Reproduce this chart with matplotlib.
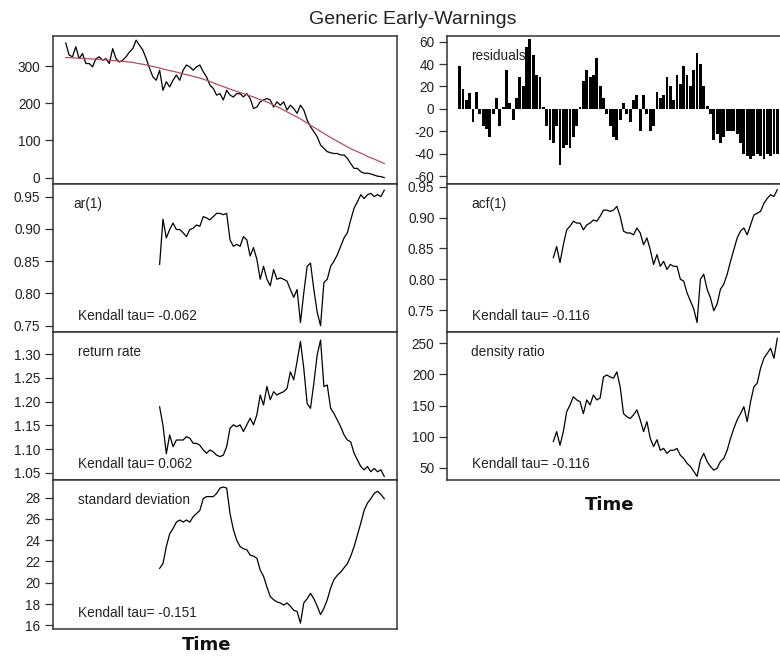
#!/usr/bin/env python3

"""Redraw the 'Generic Early-Warnings' panel figure (earlywarnings style)."""

import matplotlib

matplotlib.use("Agg")
import matplotlib.pyplot as plt
import numpy as np
from matplotlib.ticker import FixedLocator, FormatStrFormatter

# --- data ------------------------------------------------------------------

raw_series = [
    362, 330, 325, 352, 320, 334, 307, 307, 298, 320,
    325, 316, 320, 307, 347, 320, 311, 316, 325, 338,
    347, 370, 356, 343, 320, 294, 271, 262, 289, 235,
    258, 244, 262, 276, 262, 289, 303, 298, 289, 298,
    303, 285, 271, 249, 240, 222, 226, 209, 235, 222,
    217, 226, 226, 217, 226, 213, 186, 190, 204, 209,
    213, 209, 190, 204, 195, 204, 182, 195, 186, 173,
    195, 182, 155, 137, 124, 110, 88, 79, 70, 67,
    65, 65, 61, 61, 52, 38, 25, 25, 16, 12,
    12, 10, 7, 4, 3, 0,
]

trend_series = [
    323, 323, 322, 322, 321, 321, 320, 320, 319, 318.5,
    318, 317, 316.5, 316, 315, 314, 313.5, 313, 312, 311,
    310, 308, 306.5, 305, 303, 301, 299, 297, 295, 292.5,
    290, 288, 286, 284, 281.5, 279, 277, 275, 272.5, 270,
    268, 265, 262, 258.5, 255, 251.5, 248, 245, 241.5, 238,
    235, 232, 229, 226, 223, 220, 217, 213.5, 210, 207,
    204, 199.5, 195, 191, 186.5, 182, 177, 172, 167.5, 163,
    158, 152.5, 147, 141, 135.5, 130, 124.5, 119, 113.5, 108,
    103, 98, 93, 88, 83, 78, 74, 70, 66, 62,
    57, 53.5, 50, 46, 42, 38,
]

residuals = [
    38, 18, 8, 14, -12, 15, -5, -15, -18, -25,
    -5, 10, -15, 2, 35, 5, -10, 10, 28, 20,
    55, 62, 48, 30, 28, 2, -15, -28, -30, -15,
    -50, -35, -32, -35, -25, -15, 2, 25, 35, 28,
    30, 45, 20, 10, -5, -15, -25, -28, -10, 5,
    -5, -12, 8, 12, -20, 12, -5, -20, -15, 15,
    10, 12, 28, 20, 8, 30, 22, 38, 30, 20,
    35, 50, 40, 20, 3, -5, -28, -22, -30, -25,
    -20, -20, -20, -22, -30, -40, -42, -45, -42, -40,
    -42, -45, -40, -42, -40, -40,
]

# rolling-window indicators start at time step 29
indicator_start = 29

ar1 = [
    0.845, 0.915, 0.886, 0.899, 0.909, 0.899, 0.899, 0.894, 0.888, 0.899,
    0.901, 0.906, 0.904, 0.919, 0.917, 0.914, 0.919, 0.924, 0.924, 0.922,
    0.924, 0.883, 0.873, 0.876, 0.873, 0.888, 0.883, 0.858, 0.871, 0.853,
    0.822, 0.842, 0.822, 0.812, 0.837, 0.822, 0.824, 0.822, 0.819, 0.806,
    0.794, 0.806, 0.755, 0.801, 0.842, 0.847, 0.806, 0.771, 0.750, 0.817,
    0.822, 0.842, 0.850, 0.860, 0.873, 0.886, 0.894, 0.914, 0.932, 0.942,
    0.953, 0.947, 0.953, 0.955, 0.950, 0.953, 0.950, 0.960,
]

acf1 = [
    0.835, 0.853, 0.827, 0.856, 0.880, 0.886, 0.894, 0.891, 0.891, 0.880,
    0.888, 0.891, 0.896, 0.894, 0.902, 0.912, 0.912, 0.910, 0.912, 0.918,
    0.902, 0.878, 0.875, 0.875, 0.872, 0.883, 0.875, 0.856, 0.867, 0.848,
    0.824, 0.840, 0.821, 0.829, 0.816, 0.824, 0.821, 0.821, 0.800, 0.797,
    0.778, 0.765, 0.752, 0.730, 0.800, 0.808, 0.784, 0.770, 0.749, 0.760,
    0.784, 0.792, 0.808, 0.829, 0.848, 0.867, 0.878, 0.883, 0.872, 0.888,
    0.904, 0.907, 0.910, 0.923, 0.931, 0.937, 0.934, 0.945,
]

return_rate = [
    1.189, 1.150, 1.090, 1.130, 1.105, 1.119, 1.119, 1.119, 1.126, 1.123,
    1.112, 1.112, 1.108, 1.098, 1.091, 1.098, 1.094, 1.087, 1.084, 1.087,
    1.105, 1.144, 1.151, 1.147, 1.151, 1.137, 1.151, 1.165, 1.151, 1.172,
    1.214, 1.193, 1.232, 1.204, 1.221, 1.214, 1.218, 1.221, 1.228, 1.263,
    1.246, 1.285, 1.327, 1.270, 1.196, 1.186, 1.239, 1.299, 1.330, 1.232,
    1.235, 1.186, 1.175, 1.161, 1.147, 1.130, 1.119, 1.115, 1.091, 1.077,
    1.063, 1.056, 1.063, 1.052, 1.059, 1.052, 1.056, 1.042,
]

density_ratio = [
    92, 108, 86, 108, 140, 151, 164, 159, 156, 137,
    159, 151, 167, 159, 162, 196, 199, 196, 194, 204,
    180, 137, 132, 129, 135, 143, 127, 108, 124, 97,
    84, 95, 78, 81, 73, 78, 78, 81, 70, 65,
    57, 52, 44, 36, 62, 73, 60, 52, 46, 49,
    60, 65, 78, 97, 113, 127, 137, 148, 124, 156,
    180, 186, 210, 226, 234, 242, 226, 258,
]

std_dev = [
    21.35, 21.8, 23.4, 24.6, 25.1, 25.7, 25.9, 25.7, 25.9, 25.7,
    26.2, 26.5, 26.8, 27.9, 28.1, 28.1, 28.1, 28.4, 28.9, 29.0,
    28.9, 26.5, 25.0, 24.0, 23.4, 23.2, 23.1, 22.6, 22.5, 22.3,
    21.2, 20.6, 19.6, 18.7, 18.4, 18.2, 18.1, 17.9, 18.1, 17.8,
    17.4, 17.3, 16.2, 18.1, 18.5, 19.0, 18.5, 17.8, 17.0, 17.6,
    18.4, 19.5, 20.3, 20.7, 21.0, 21.4, 21.8, 22.5, 23.4, 24.5,
    25.6, 26.8, 27.5, 27.9, 28.4, 28.6, 28.3, 27.9,
]

kendall_tau = {
    "ar(1)": "-0.062",
    "acf(1)": "-0.116",
    "return rate": "0.062",
    "density ratio": "-0.116",
    "standard deviation": "-0.151",
}

# --- layout (pixels of a 780x659 canvas) ------------------------------------

W, H = 780, 659
TEXT = "#222222"
FRAME = "#333333"
FONT = ["Liberation Sans", "DejaVu Sans"]


def add_panel(fig, left, width, top, bottom):
    ax = fig.add_axes([left / W, 1 - bottom / H, width / W, (bottom - top) / H])
    for spine in ax.spines.values():
        spine.set_color(FRAME)
        spine.set_linewidth(1.1)
    ax.tick_params(axis="y", direction="out", length=5.5, width=0.9,
                   pad=3.5, labelsize=9.8, colors=TEXT)
    ax.tick_params(axis="y", color=FRAME)
    ax.set_xticks([])
    n = len(raw_series)
    pad = (n - 1) * 0.04
    ax.set_xlim(1 - pad, n + pad)
    return ax


def label_panel(ax, name, tau=None, dx=25):
    bbox = ax.get_position()
    w_px = bbox.width * W
    h_px = bbox.height * H
    ax.text(dx / w_px, 1 - 20 / h_px, name, transform=ax.transAxes,
            ha="left", va="center", fontsize=9.8, color=TEXT, family=FONT)
    if tau is not None:
        ax.text(25 / w_px, 16 / h_px, f"Kendall tau= {tau}", transform=ax.transAxes,
                ha="left", va="center", fontsize=9.8, color=TEXT, family=FONT)


def main() -> None:
    plt.rcParams["font.family"] = FONT
    plt.rcParams["axes.unicode_minus"] = False
    fig = plt.figure(figsize=(W / 100, H / 100), dpi=100)

    t_raw = np.arange(1, len(raw_series) + 1)
    t_ind = np.arange(indicator_start, indicator_start + len(ar1))

    lx, lw = 53, 344
    rx, rw = 447, 343
    rows = [36, 184, 332, 480, 629]

    # left column
    ax = add_panel(fig, lx, lw, rows[0], rows[1])
    ax.plot(t_raw, raw_series, color="black", lw=0.9)
    ax.plot(t_raw, trend_series, color="#b0505c", lw=0.9)
    ax.set_ylim(-17, 381)
    ax.yaxis.set_major_locator(FixedLocator([0, 100, 200, 300]))

    ax = add_panel(fig, lx, lw, rows[1], rows[2])
    ax.plot(t_ind, ar1, color="black", lw=0.9)
    ax.set_ylim(0.7403, 0.9695)
    ax.yaxis.set_major_locator(FixedLocator([0.75, 0.80, 0.85, 0.90, 0.95]))
    ax.yaxis.set_major_formatter(FormatStrFormatter("%.2f"))
    label_panel(ax, "ar(1)", kendall_tau["ar(1)"], dx=20)

    ax = add_panel(fig, lx, lw, rows[2], rows[3])
    ax.plot(t_ind, return_rate, color="black", lw=0.9)
    ax.set_ylim(1.0346, 1.347)
    ax.yaxis.set_major_locator(FixedLocator([1.05, 1.10, 1.15, 1.20, 1.25, 1.30]))
    ax.yaxis.set_major_formatter(FormatStrFormatter("%.2f"))
    label_panel(ax, "return rate", kendall_tau["return rate"])

    ax = add_panel(fig, lx, lw, rows[3], rows[4])
    ax.plot(t_ind, std_dev, color="black", lw=0.9)
    ax.set_ylim(15.65, 29.66)
    ax.yaxis.set_major_locator(FixedLocator([16, 18, 20, 22, 24, 26, 28]))
    label_panel(ax, "standard deviation", kendall_tau["standard deviation"])

    # right column (runs past the canvas edge, as in the original crop)
    ax = add_panel(fig, rx, rw, rows[0], rows[1])
    ax.bar(t_raw, residuals, width=0.85, color="black", linewidth=0)
    ax.set_ylim(-67, 65)
    ax.yaxis.set_major_locator(FixedLocator([-60, -40, -20, 0, 20, 40, 60]))
    label_panel(ax, "residuals", dx=24)

    ax = add_panel(fig, rx, rw, rows[1], rows[2])
    ax.plot(t_ind, acf1, color="black", lw=0.9)
    ax.set_ylim(0.7146, 0.9543)
    ax.yaxis.set_major_locator(FixedLocator([0.75, 0.80, 0.85, 0.90, 0.95]))
    ax.yaxis.set_major_formatter(FormatStrFormatter("%.2f"))
    label_panel(ax, "acf(1)", kendall_tau["acf(1)"], dx=24)

    ax = add_panel(fig, rx, rw, rows[2], rows[3])
    ax.plot(t_ind, density_ratio, color="black", lw=0.9)
    ax.set_ylim(30.2, 268.2)
    ax.yaxis.set_major_locator(FixedLocator([50, 100, 150, 200, 250]))
    label_panel(ax, "density ratio", kendall_tau["density ratio"], dx=24)

    fig.text(413 / W, 1 - 19 / H, "Generic Early-Warnings", ha="center", va="center",
             fontsize=14, color=TEXT, family=FONT)
    fig.text(207 / W, 1 - 645 / H, "Time", ha="center", va="center",
             fontsize=13, fontweight="bold", color="#111111", family="DejaVu Sans")
    fig.text(610 / W, 1 - 505 / H, "Time", ha="center", va="center",
             fontsize=13, fontweight="bold", color="#111111", family="DejaVu Sans")

    fig.savefig("out.png", dpi=100)


if __name__ == "__main__":
    main()
